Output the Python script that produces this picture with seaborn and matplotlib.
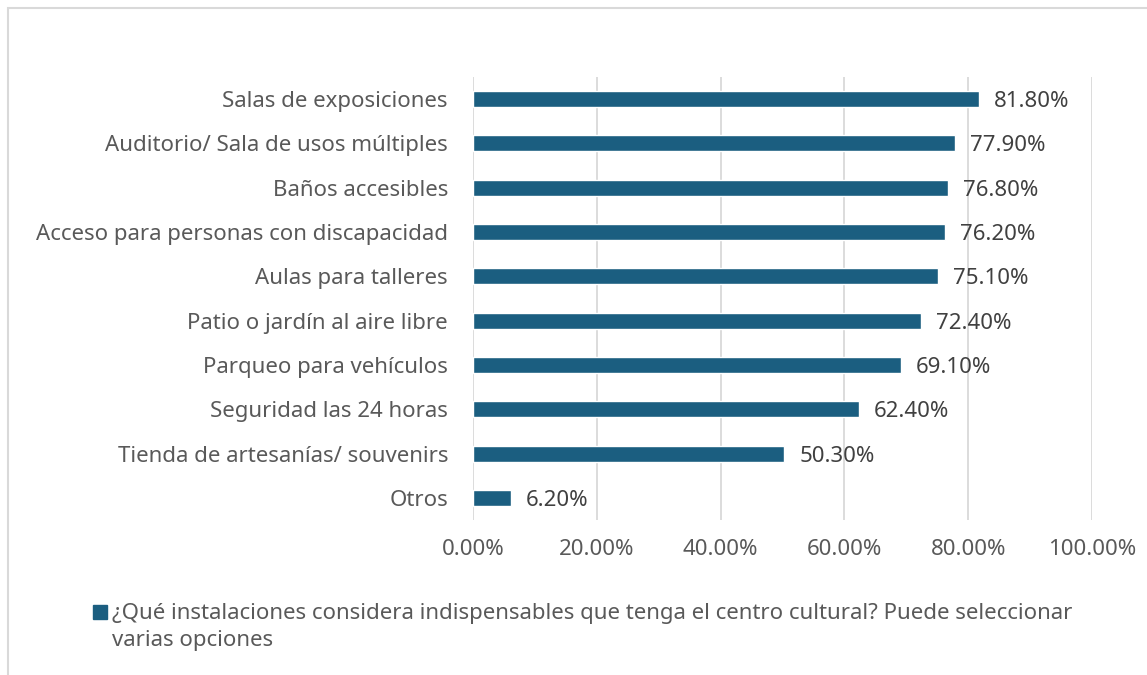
import matplotlib
matplotlib.use("Agg")
import matplotlib.pyplot as plt
import seaborn as sns
import pandas as pd
from matplotlib.patches import Rectangle

categories = ["Salas de exposiciones", "Auditorio/ Sala de usos múltiples", "Baños accesibles",
              "Acceso para personas con discapacidad", "Aulas para talleres",
              "Patio o jardín al aire libre", "Parqueo para vehículos",
              "Seguridad las 24 horas", "Tienda de artesanías/ souvenirs", "Otros"]
values = [81.8, 77.9, 76.8, 76.2, 75.1, 72.4, 69.1, 62.4, 50.3, 6.2]
xticks = [0, 20, 40, 60, 80, 100]
legend_label = "¿Qué instalaciones considera indispensables que tenga el centro cultural? Puede seleccionar\nvarias opciones"

sns.set_theme(style="white")
plt.rcParams['font.family'] = ['Noto Sans', 'DejaVu Sans']

color = "#1b5e80"
txt = "#595959"
fs = 16

df = pd.DataFrame({"cat": categories, "val": values})

fig = plt.figure(figsize=(11.47, 6.75), dpi=100)
ax = fig.add_axes([473/1147, 1 - 520/675, (1092-473)/1147, (520-77)/675])

sns.barplot(data=df, y="cat", x="val", orient="h", color=color, width=0.36,
            saturation=1, ax=ax, order=categories)

ax.set_xlim(0, 100)
ax.set_xticks(xticks)
ax.set_xticklabels([f"{t:.2f}%" for t in xticks], fontsize=fs, color=txt)
ax.tick_params(axis='x', length=0, pad=14)
ax.tick_params(axis='y', length=0, pad=18, labelsize=fs, labelcolor=txt)
ax.set_xlabel("")
ax.set_ylabel("")
for s in ax.spines.values():
    s.set_visible(False)
ax.grid(axis='x', color="#d9d9d9", linewidth=1.3)
ax.set_axisbelow(True)

for i, v in enumerate(values):
    ax.text(v + 2.4, i, f"{v:.2f}%", va="center_baseline", ha="left", fontsize=fs, color="#404040")

# legend
fig.patches.append(Rectangle((93/1147, 1 - 619/675), 14/1147, 14/675,
                             transform=fig.transFigure, color=color))
fig.text(112/1147, 1 - 627/675, legend_label, fontsize=fs, color=txt, va="center",
         ha="left", linespacing=1.42)

# figure border
fig.patches.append(Rectangle((8/1147, -0.1), 1.2, 1 - 8/675 + 0.1, transform=fig.transFigure,
                             fill=False, edgecolor="#d9d9d9", linewidth=1.5))

fig.savefig("out.png", dpi=100)
